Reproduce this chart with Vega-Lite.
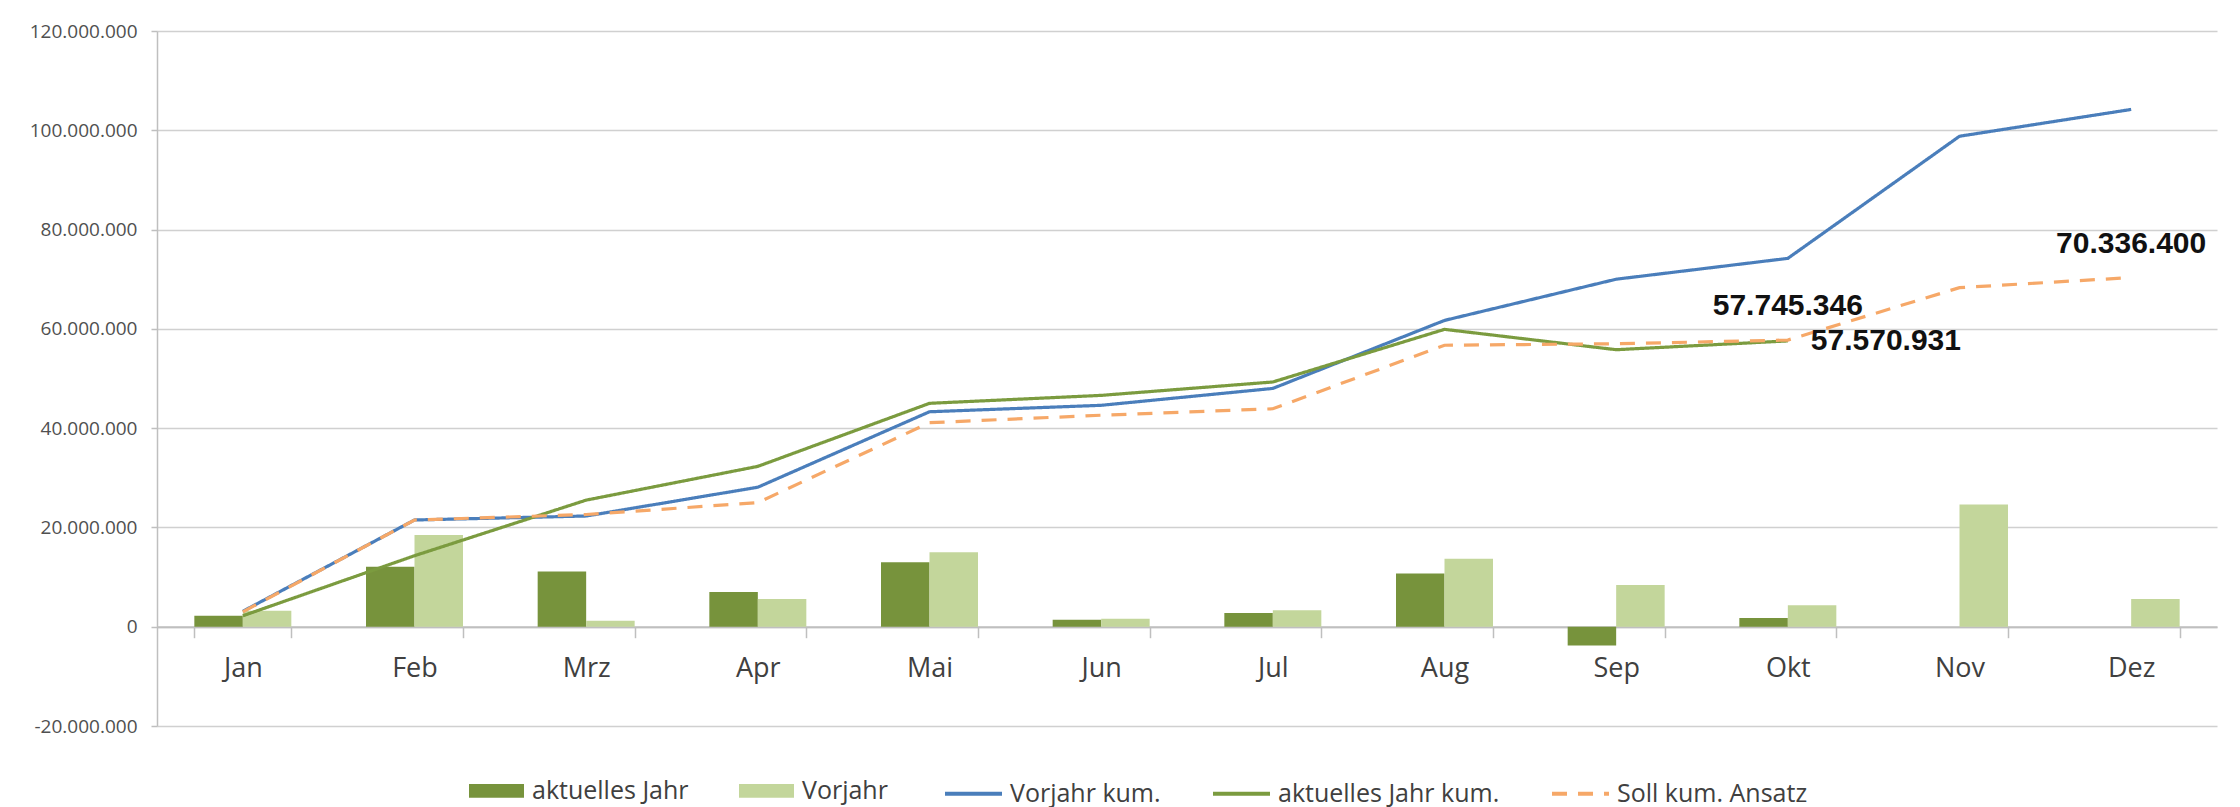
{
  "$schema": "https://vega.github.io/schema/vega-lite/v6.json",
  "width": 2060,
  "height": 695,
  "autosize": {"type": "none"},
  "padding": {"left": 157, "top": 31, "right": 23, "bottom": 81},
  "background": "white",
  "config": {
    "locale": {"number": {"decimal": ",", "thousands": ".", "grouping": [3], "currency": ["", " €"], "minus": "-"}},
    "view": {"stroke": null},
    "font": "Open Sans"
  },
  "data": {
    "values": [
      {"month": "Jan", "series": "aktuelles Jahr", "value": 2200000},
      {"month": "Feb", "series": "aktuelles Jahr", "value": 12100000},
      {"month": "Mrz", "series": "aktuelles Jahr", "value": 11100000},
      {"month": "Apr", "series": "aktuelles Jahr", "value": 7000000},
      {"month": "Mai", "series": "aktuelles Jahr", "value": 13000000},
      {"month": "Jun", "series": "aktuelles Jahr", "value": 1400000},
      {"month": "Jul", "series": "aktuelles Jahr", "value": 2750000},
      {"month": "Aug", "series": "aktuelles Jahr", "value": 10700000},
      {"month": "Sep", "series": "aktuelles Jahr", "value": -3800000},
      {"month": "Okt", "series": "aktuelles Jahr", "value": 1750000},
      {"month": "Jan", "series": "Vorjahr", "value": 3200000},
      {"month": "Feb", "series": "Vorjahr", "value": 18500000},
      {"month": "Mrz", "series": "Vorjahr", "value": 1200000},
      {"month": "Apr", "series": "Vorjahr", "value": 5600000},
      {"month": "Mai", "series": "Vorjahr", "value": 15000000},
      {"month": "Jun", "series": "Vorjahr", "value": 1600000},
      {"month": "Jul", "series": "Vorjahr", "value": 3300000},
      {"month": "Aug", "series": "Vorjahr", "value": 13700000},
      {"month": "Sep", "series": "Vorjahr", "value": 8400000},
      {"month": "Okt", "series": "Vorjahr", "value": 4300000},
      {"month": "Nov", "series": "Vorjahr", "value": 24600000},
      {"month": "Dez", "series": "Vorjahr", "value": 5600000},
      {"month": "Jan", "series": "Vorjahr kum.", "value": 3100000},
      {"month": "Feb", "series": "Vorjahr kum.", "value": 21500000},
      {"month": "Mrz", "series": "Vorjahr kum.", "value": 22300000},
      {"month": "Apr", "series": "Vorjahr kum.", "value": 28100000},
      {"month": "Mai", "series": "Vorjahr kum.", "value": 43300000},
      {"month": "Jun", "series": "Vorjahr kum.", "value": 44600000},
      {"month": "Jul", "series": "Vorjahr kum.", "value": 48000000},
      {"month": "Aug", "series": "Vorjahr kum.", "value": 61700000},
      {"month": "Sep", "series": "Vorjahr kum.", "value": 70000000},
      {"month": "Okt", "series": "Vorjahr kum.", "value": 74200000},
      {"month": "Nov", "series": "Vorjahr kum.", "value": 98800000},
      {"month": "Dez", "series": "Vorjahr kum.", "value": 104200000},
      {"month": "Jan", "series": "aktuelles Jahr kum.", "value": 2200000},
      {"month": "Feb", "series": "aktuelles Jahr kum.", "value": 14300000},
      {"month": "Mrz", "series": "aktuelles Jahr kum.", "value": 25500000},
      {"month": "Apr", "series": "aktuelles Jahr kum.", "value": 32300000},
      {"month": "Mai", "series": "aktuelles Jahr kum.", "value": 45000000},
      {"month": "Jun", "series": "aktuelles Jahr kum.", "value": 46600000},
      {"month": "Jul", "series": "aktuelles Jahr kum.", "value": 49300000},
      {"month": "Aug", "series": "aktuelles Jahr kum.", "value": 59900000},
      {"month": "Sep", "series": "aktuelles Jahr kum.", "value": 55800000},
      {"month": "Okt", "series": "aktuelles Jahr kum.", "value": 57570931},
      {"month": "Jan", "series": "Soll kum. Ansatz", "value": 3000000},
      {"month": "Feb", "series": "Soll kum. Ansatz", "value": 21500000},
      {"month": "Mrz", "series": "Soll kum. Ansatz", "value": 22600000},
      {"month": "Apr", "series": "Soll kum. Ansatz", "value": 25000000},
      {"month": "Mai", "series": "Soll kum. Ansatz", "value": 41100000},
      {"month": "Jun", "series": "Soll kum. Ansatz", "value": 42600000},
      {"month": "Jul", "series": "Soll kum. Ansatz", "value": 43900000},
      {"month": "Aug", "series": "Soll kum. Ansatz", "value": 56700000},
      {"month": "Sep", "series": "Soll kum. Ansatz", "value": 57000000},
      {"month": "Okt", "series": "Soll kum. Ansatz", "value": 57745346},
      {"month": "Nov", "series": "Soll kum. Ansatz", "value": 68300000},
      {"month": "Dez", "series": "Soll kum. Ansatz", "value": 70336400}
    ]
  },
  "encoding": {
    "x": {
      "field": "month",
      "type": "nominal",
      "scale": {
        "domain": ["Jan", "Feb", "Mrz", "Apr", "Mai", "Jun", "Jul", "Aug", "Sep", "Okt", "Nov", "Dez"],
        "paddingInner": 0.435,
        "paddingOuter": 0.2175
      },
      "axis": {
        "title": null,
        "orient": "bottom",
        "offset": -99.3,
        "tickBand": "extent",
        "tickSize": 11,
        "tickColor": "#BFBFBF",
        "tickWidth": 1.5,
        "domainColor": "#BFBFBF",
        "domainWidth": 2,
        "labelFont": "Open Sans",
        "labelFontSize": 27,
        "labelColor": "#404040",
        "labelPadding": 18,
        "labelAngle": 0,
        "grid": false
      }
    },
    "y": {
      "field": "value",
      "type": "quantitative",
      "stack": null,
      "scale": {"domain": [-20000000, 120000000], "nice": false, "zero": false},
      "axis": {
        "title": null,
        "values": [-20000000, 0, 20000000, 40000000, 60000000, 80000000, 100000000, 120000000],
        "format": ",d",
        "labelFont": "Open Sans",
        "labelFontSize": 19,
        "labelColor": "#505050",
        "labelPadding": 14,
        "tickSize": 6,
        "tickColor": "#BFBFBF",
        "tickWidth": 1.5,
        "domainColor": "#BFBFBF",
        "domainWidth": 1.5,
        "gridColor": "#D0D0D0",
        "gridWidth": 1.5
      }
    }
  },
  "layer": [
    {
      "transform": [{"filter": {"field": "series", "oneOf": ["aktuelles Jahr", "Vorjahr"]}}],
      "mark": {"type": "bar"},
      "encoding": {
        "xOffset": {
          "field": "series",
          "type": "nominal",
          "scale": {"domain": ["aktuelles Jahr", "Vorjahr"], "paddingInner": 0, "paddingOuter": 0}
        },
        "fill": {
          "field": "series",
          "type": "nominal",
          "scale": {"domain": ["aktuelles Jahr", "Vorjahr"], "range": ["#77933C", "#C3D69B"]},
          "legend": {
            "title": null,
            "orient": "none",
            "legendX": 312,
            "legendY": 732,
            "direction": "horizontal",
            "columns": 2,
            "symbolType": "M-1,-0.25H1V0.25H-1Z",
            "symbolSize": 3025,
            "symbolStrokeWidth": 0,
            "labelFont": "Open Sans",
            "labelFontSize": 25,
            "labelColor": "#404040",
            "labelOffset": 8,
            "columnPadding": 50,
            "labelLimit": 400
          }
        }
      }
    },
    {
      "transform": [{"filter": {"field": "series", "oneOf": ["Vorjahr kum.", "aktuelles Jahr kum.", "Soll kum. Ansatz"]}}],
      "mark": {"type": "line", "strokeWidth": 3.2},
      "encoding": {
        "stroke": {
          "field": "series",
          "type": "nominal",
          "scale": {"domain": ["Vorjahr kum.", "aktuelles Jahr kum.", "Soll kum. Ansatz"], "range": ["#4A7EBB", "#7B9B3F", "#F6A868"]},
          "legend": {
            "title": null,
            "orient": "none",
            "legendX": 786,
            "legendY": 732,
            "direction": "horizontal",
            "columns": 3,
            "symbolType": "stroke",
            "symbolSize": 3249,
            "symbolStrokeWidth": 4,
            "labelFont": "Open Sans",
            "labelFontSize": 25,
            "labelColor": "#404040",
            "labelOffset": 6,
            "columnPadding": 44,
            "labelLimit": 400
          }
        },
        "strokeDash": {
          "field": "series",
          "type": "nominal",
          "scale": {"domain": ["Vorjahr kum.", "aktuelles Jahr kum.", "Soll kum. Ansatz"], "range": [[1, 0], [1, 0], [15, 11]]},
          "legend": {
            "title": null,
            "orient": "none",
            "legendX": 786,
            "legendY": 732,
            "direction": "horizontal",
            "columns": 3,
            "symbolType": "stroke",
            "symbolSize": 3249,
            "symbolStrokeWidth": 4,
            "labelFont": "Open Sans",
            "labelFontSize": 25,
            "labelColor": "#404040",
            "labelOffset": 6,
            "columnPadding": 44,
            "labelLimit": 400
          }
        }
      }
    },
    {
      "transform": [
        {"filter": {"field": "series", "equal": "Soll kum. Ansatz"}},
        {"filter": {"field": "month", "oneOf": ["Okt", "Dez"]}}
      ],
      "mark": {"type": "text", "font": "Liberation Sans", "fontWeight": "bold", "fontSize": 30, "dy": -34, "align": "center", "baseline": "middle", "color": "#111111"},
      "encoding": {"text": {"field": "value", "type": "quantitative", "format": ",d"}}
    },
    {
      "transform": [
        {"filter": {"field": "series", "equal": "aktuelles Jahr kum."}},
        {"filter": {"field": "month", "equal": "Okt"}}
      ],
      "mark": {"type": "text", "font": "Liberation Sans", "fontWeight": "bold", "fontSize": 30, "dx": 23, "align": "left", "baseline": "middle", "color": "#111111"},
      "encoding": {"text": {"field": "value", "type": "quantitative", "format": ",d"}}
    }
  ]
}
